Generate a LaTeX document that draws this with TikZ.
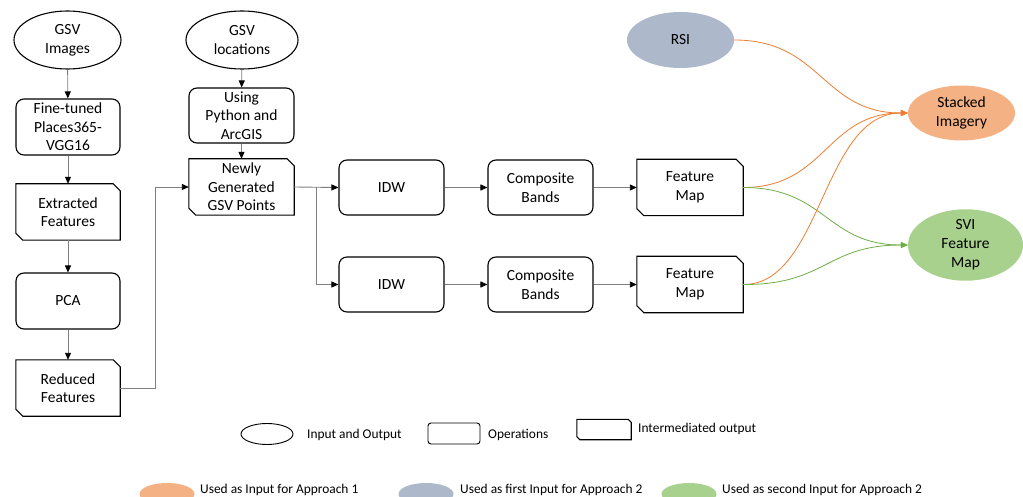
\documentclass[tikz,border=0pt]{standalone}
\usepackage{fontspec}
\setmainfont{Carlito}
\usetikzlibrary{arrows.meta,shapes.geometric}
\definecolor{rsiblue}{HTML}{ADB9CA}
\definecolor{orfill}{HTML}{F4B183}
\definecolor{grfill}{HTML}{A9D18E}
\definecolor{orline}{HTML}{ED7D31}
\definecolor{grline}{HTML}{70AD47}
\definecolor{conn}{HTML}{7F7F7F}
\tikzset{
  io/.style={ellipse, draw=black, line width=1.1pt, inner sep=0pt, align=center, font=\fontsize{15.5}{19}\selectfont},
  opbox/.style={rectangle, rounded corners=8pt, draw=black, line width=1.1pt, minimum width=105pt, minimum height=56pt, inner sep=0pt, align=center, font=\fontsize{15.5}{18.5}\selectfont},
  interbox/.style={rectangle, minimum width=105pt, minimum height=56pt, inner sep=0pt, align=center, font=\fontsize{15.5}{18.5}\selectfont},
  colell/.style={ellipse, draw=none, inner sep=0pt, align=center, font=\fontsize{15.5}{19}\selectfont},
  flow/.style={draw=conn, line width=0.9pt, -{Triangle[length=7pt,width=6pt,fill=black,color=black]}},
  plain/.style={draw=conn, line width=0.9pt},
  orarrow/.style={draw=orline, line width=0.8pt, -{Triangle[length=7pt,width=6pt]}},
  grarrow/.style={draw=grline, line width=0.8pt, -{Triangle[length=7pt,width=6pt]}},
  legtext/.style={anchor=west, inner sep=0pt, font=\fontsize{13.4}{16}\selectfont},
}
\newcommand{\chamf}[2]{%
  \draw[line width=1.1pt, line join=miter] (#1.north west) -- ([xshift=-#2]#1.north east) -- ([yshift=-#2]#1.north east) -- (#1.south east) -- ([xshift=#2]#1.south west) -- ([yshift=#2]#1.south west) -- cycle;}
\begin{document}
\begin{tikzpicture}[x=1pt,y=-1pt]
\useasboundingbox (0,0) rectangle (1023,497);
% left column
\node[io, minimum width=107pt, minimum height=58pt] (img) at (67.5,40) {GSV\\Images};
\node[opbox, minimum width=104pt] (ft) at (68,127) {Fine-tuned\\Places365-\\VGG16};
\node[interbox, minimum width=104pt] (ef) at (68,212) {Extracted\\Features};
\node[opbox, minimum width=104pt] (pca) at (68,301) {PCA};
\node[interbox, minimum width=104pt] (rf) at (68,388) {Reduced\\Features};
% second column
\node[io, minimum width=112pt, minimum height=58pt] (loc) at (242,40) {GSV\\locations};
\node[opbox, minimum height=55pt] (py) at (241.5,115.5) {Using\\Python and\\ArcGIS};
\node[interbox] (ng) at (241.5,187) {Newly\\Generated\\GSV Points};
% rows
\node[opbox, minimum height=55pt] (idw1) at (391.5,187.5) {IDW};
\node[opbox, minimum height=55pt] (cb1) at (540.5,187.5) {Composite\\Bands};
\node[interbox, minimum width=106pt] (fm1) at (690,187.5) {Feature\\Map};
\node[opbox, minimum height=55pt] (idw2) at (391.5,284.5) {IDW};
\node[opbox, minimum height=55pt] (cb2) at (540.5,284.5) {Composite\\Bands};
\node[interbox, minimum width=106pt] (fm2) at (690,284.5) {Feature\\Map};
% coloured ellipses
\node[colell, fill=rsiblue, minimum width=107pt, minimum height=56pt] (rsi) at (680.5,40) {RSI};
\node[colell, fill=orfill, minimum width=107pt, minimum height=55pt] (si) at (961.5,113) {Stacked\\Imagery};
\node[colell, fill=grfill, minimum width=115pt, minimum height=64pt] (svi) at (965.5,245) {SVI\\Feature\\Map};
% chamfered outlines
\chamf{ef}{7pt}
\chamf{rf}{7pt}
\chamf{ng}{7pt}
\chamf{fm1}{7pt}
\chamf{fm2}{7pt}
% flow connectors
\draw[flow] (img) -- (ft);
\draw[flow] (ft) -- (ef);
\draw[flow] (ef) -- (pca);
\draw[flow] (pca) -- (rf);
\draw[flow] (loc) -- (py);
\draw[flow] (py) -- (ng);
\coordinate (turn1) at (155,388);
\coordinate (turn2) at (155,187);
\draw[flow] (rf.east) -- (turn1) -- (turn2) -- (ng.west);
\coordinate (branch) at (316,187);
\coordinate (branchlow) at (316,284.5);
\draw[flow] (ng.east) -- (idw1.west);
\draw[plain] (branch) -- (branchlow);
\draw[flow] (branchlow) -- (idw2.west);
\draw[flow] (idw1) -- (cb1);
\draw[flow] (cb1) -- (fm1);
\draw[flow] (idw2) -- (cb2);
\draw[flow] (cb2) -- (fm2);
% coloured curves
\draw[orarrow] (rsi.east) .. controls (822,40) and (822,113) .. (si.west);
\draw[orarrow] (fm1.east) .. controls (826,187.5) and (826,113) .. (si.west);
\draw[grarrow] (fm1.east) .. controls (826,187.5) and (826,245) .. (svi.west);
\draw[orarrow] (fm2.east) .. controls (822,285) and (822,113) .. (si.west);
\draw[grarrow] (fm2.east) .. controls (826,285) and (826,245) .. (svi.west);
% legend row 1
\node[ellipse, draw=black, line width=0.9pt, minimum width=52pt, minimum height=21pt, inner sep=0pt] (lio) at (267,434) {};
\node[legtext] (tio) at (307,435) {Input and Output};
\node[rectangle, rounded corners=3pt, draw=black, line width=0.9pt, minimum width=52pt, minimum height=21pt, inner sep=0pt] (lop) at (454,433.5) {};
\node[legtext] (top) at (488,435) {Operations};
\node[rectangle, minimum width=54pt, minimum height=20pt, inner sep=0pt] (lin) at (604,429.5) {};
\chamf{lin}{3pt}
\node[legtext] (tin) at (638,429) {Intermediated output};
% legend row 2
\node[ellipse, fill=orfill, minimum width=55pt, minimum height=22pt, inner sep=0pt] (lor) at (167,494) {};
\node[legtext] (tor) at (200,490) {Used as Input for Approach 1};
\node[ellipse, fill=rsiblue, minimum width=55pt, minimum height=22pt, inner sep=0pt] (lbl) at (426,494) {};
\node[legtext] (tbl) at (460,490) {Used as first Input for Approach 2};
\node[ellipse, fill=grfill, minimum width=55pt, minimum height=22pt, inner sep=0pt] (lgr) at (689,494) {};
\node[legtext] (tgr) at (722,490) {Used as second Input for Approach 2};
\end{tikzpicture}
\end{document}
